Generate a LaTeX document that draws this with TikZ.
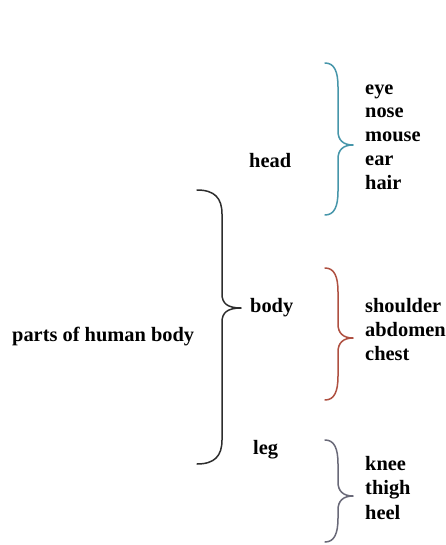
\documentclass[tikz,border=0pt]{standalone}
\usepackage{fontspec}
\setmainfont{Liberation Serif}
\definecolor{tealbr}{RGB}{70,150,170}
\definecolor{redbr}{RGB}{175,80,65}
\definecolor{graybr}{RGB}{105,105,120}
\definecolor{blackbr}{RGB}{45,45,45}
\newcommand\mybrace[7]{%
 % #1 tip x, #2 line x, #3 point x, #4 top y, #5 point y, #6 bottom y, #7 colour
 \draw[#7, line width=1.5pt, line cap=round, line join=round]
  (#1,#4) .. controls ({#1+(#2-#1)*0.7},{#4}) and ({#2},{#4+8}) .. ({#2},{#4+24})
  -- ({#2},{#5-14}) .. controls ({#2},{#5-5}) and ({#2+5},{#5}) .. (#3,#5)
  .. controls ({#2+5},{#5}) and ({#2},{#5+5}) .. ({#2},{#5+14})
  -- ({#2},{#6-24}) .. controls ({#2},{#6-8}) and ({#1+(#2-#1)*0.7},{#6}) .. (#1,#6);}
\tikzset{lbl/.style={font=\fontsize{20.4}{24}\selectfont\bfseries, anchor=mid west, inner sep=0pt}}
\begin{document}
\begin{tikzpicture}[x=1pt,y=-1pt]
\useasboundingbox[fill=white] (0,0) rectangle (446,545);
% braces
\mybrace{197}{222}{241}{190}{308}{464}{blackbr}
\mybrace{325}{338}{353}{63}{145}{215}{tealbr}
\mybrace{325}{338}{353}{268}{338}{400}{redbr}
\mybrace{325}{338}{353}{440}{496}{542}{graybr}
% labels
\node[lbl] (root) at (12,339) {parts of human body};
\node[lbl] (head) at (249,165) {head};
\node[lbl] (body) at (250,310) {body};
\node[lbl] (leg) at (253,452) {leg};
\node[lbl] (eye) at (365,92) {eye};
\node[lbl] (nose) at (365,115) {nose};
\node[lbl] (mouse) at (365,139) {mouse};
\node[lbl] (ear) at (365,163) {ear};
\node[lbl] (hair) at (365,187) {hair};
\node[lbl] (shoulder) at (365,310) {shoulder};
\node[lbl] (abdomen) at (365,334) {abdomen};
\node[lbl] (chest) at (365,358) {chest};
\node[lbl] (knee) at (365,468) {knee};
\node[lbl] (thigh) at (365,492) {thigh};
\node[lbl] (heel) at (365,517) {heel};
\end{tikzpicture}
\end{document}
